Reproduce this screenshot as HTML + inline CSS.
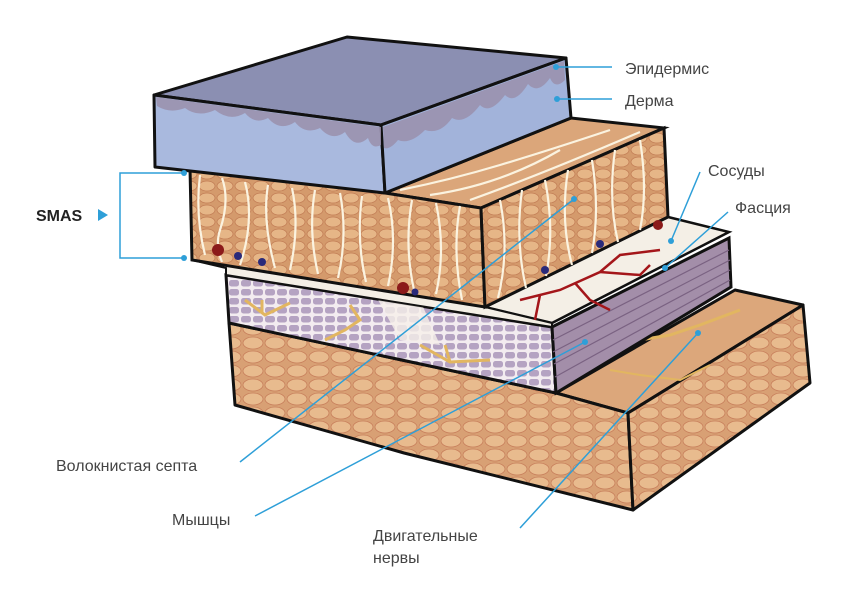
<!DOCTYPE html>
<html><head><meta charset="utf-8"><style>
html,body{margin:0;padding:0;background:#fff;}
svg{display:block;}
text{font-family:"Liberation Sans",sans-serif;font-size:16px;fill:#444;}
</style></head><body>
<svg width="854" height="601" viewBox="0 0 854 601" xmlns="http://www.w3.org/2000/svg">
<defs>
<pattern id="fat" width="18" height="12" patternUnits="userSpaceOnUse">
<rect width="18" height="12" fill="#d49a6c"/>
<ellipse cx="9" cy="6" rx="8" ry="5" fill="#e6b687" stroke="#c27d55" stroke-width=".8"/>
</pattern>
<pattern id="fat2" width="22" height="14" patternUnits="userSpaceOnUse">
<rect width="22" height="14" fill="#d8a074"/>
<ellipse cx="11" cy="7" rx="10" ry="6" fill="#e8bb8e" stroke="#c8805c" stroke-width=".8"/>
</pattern>
<pattern id="mus" width="12" height="9" patternUnits="userSpaceOnUse">
<rect width="12" height="9" fill="#f3ecf0"/>
<rect x="1" y="1" width="10" height="6.5" rx="2.5" fill="#b5a3c2"/>
</pattern>
</defs>
<rect width="854" height="601" fill="#fff"/>

<!-- bottom block -->
<polygon points="556,393 735,290 803,305 628,413" fill="#dca77b" stroke="#111" stroke-width="3" stroke-linejoin="round"/>
<polygon points="229,323 556,393 628,413 633,510 404,453 235,405" fill="url(#fat2)" stroke="#111" stroke-width="3" stroke-linejoin="round"/>
<polygon points="628,413 803,305 810,383 633,510" fill="url(#fat2)" stroke="#111" stroke-width="3" stroke-linejoin="round"/>
<polyline points="600,350 640,340 670,335 700,325 740,310" fill="none" stroke="#e2b660" stroke-width="3"/>
<polyline points="610,370 640,375 680,380 710,365" fill="none" stroke="#e2b660" stroke-width="2"/>

<!-- muscle front -->
<polygon points="226,275 552,327 556,393 229,323" fill="url(#mus)" stroke="#111" stroke-width="3"/>
<polygon points="370,285 420,300 440,345 400,340" fill="#f6f0ea" opacity=".8"/>
<!-- muscle right face -->
<polygon points="552,327 729,238 731,287 556,393" fill="#a38ea9" stroke="#111" stroke-width="3"/>
<g stroke="#7a6282" stroke-width="1.2">
<line x1="553" y1="340" x2="729" y2="250"/><line x1="553" y1="352" x2="730" y2="260"/><line x1="554" y1="364" x2="730" y2="270"/><line x1="555" y1="377" x2="730" y2="280"/>
</g>
<!-- fascia -->
<polygon points="485,307 668,217 729,232 552,323" fill="#f4efe6" stroke="#111" stroke-width="2.5"/>
<polygon points="192,260 485,307 552,323 552,327 226,275 226,268" fill="#f4efe6" stroke="#111" stroke-width="2"/>
<g fill="none" stroke="#e2b660" stroke-width="3">
<path d="M245,300 L265,315 L290,303 M262,313 V300"/>
<path d="M325,340 L345,330 L360,320 L350,305"/>
<path d="M420,345 L450,362 L490,360 M450,362 L445,345"/>
</g>
<g fill="none" stroke="#a4161a" stroke-width="2.5">
<path d="M520,300 L560,290 L600,272 L620,255 L660,250"/>
<path d="M575,283 L590,300 L610,310 M600,272 L640,275 L650,265"/>
<path d="M540,295 L535,320"/>
</g>

<!-- fat block -->
<polygon points="385,193 571,118 664,128 481,208" fill="#dba67a" stroke="#111" stroke-width="3"/>
<polygon points="190,168 385,193 481,208 485,307 192,260" fill="url(#fat)" stroke="#111" stroke-width="3"/>
<polygon points="481,208 664,128 668,217 485,307" fill="url(#fat)" stroke="#111" stroke-width="3"/>
<g stroke="#fbf3e0" stroke-width="2.2" fill="none">
<path d="M200,175 Q195,215 205,255 M222,178 Q230,200 220,230 Q215,245 222,262 M245,182 Q255,220 240,265 M268,185 Q262,220 275,268 M292,188 Q300,225 290,270 M315,190 Q308,230 318,274 M340,193 Q348,235 338,278 M362,196 Q356,240 366,282 M388,198 Q398,240 388,286 M412,200 Q404,245 414,290 M436,203 Q446,250 436,294 M460,206 Q452,250 462,300"/>
<path d="M500,200 Q510,250 498,298 M522,190 Q515,240 526,288 M545,180 Q555,230 546,276 M568,170 Q560,220 572,265 M592,160 Q600,210 592,253 M615,150 Q608,200 618,242 M640,140 Q648,190 640,230"/>
<path d="M400,190 Q450,180 500,165 Q550,150 610,130 M430,195 Q500,185 560,150 M470,200 Q540,175 640,132"/>
</g>
<g fill="#8b1a1a"><circle cx="218" cy="250" r="6"/><circle cx="403" cy="288" r="6"/><circle cx="658" cy="225" r="5"/></g>
<g fill="#2a2a7a"><circle cx="238" cy="256" r="4"/><circle cx="262" cy="262" r="4"/><circle cx="415" cy="292" r="3.5"/><circle cx="545" cy="270" r="4"/><circle cx="600" cy="244" r="4"/></g>

<!-- dermis block -->
<polygon points="154,95 347,37 566,58 381,125" fill="#8b8fb2" stroke="#111" stroke-width="3" stroke-linejoin="round"/>
<polygon points="154,95 381,125 385,193 155,167" fill="#a9b9de" stroke="#111" stroke-width="3" stroke-linejoin="round"/>
<polygon points="381,125 566,58 571,118 385,193" fill="#a2b3da" stroke="#111" stroke-width="3" stroke-linejoin="round"/>
<path d="M156,97 L381,127 L381,145 Q372,150 368,138 Q355,150 345,132 Q332,142 320,128 Q305,135 295,122 Q280,132 268,118 Q255,125 245,113 Q230,122 215,110 Q198,118 185,108 Q170,114 157,106 Z" fill="#9a8fab" opacity=".85"/>
<path d="M383,127 L564,61 L565,80 Q555,90 550,78 Q538,95 528,84 Q515,105 505,95 Q490,115 480,105 Q465,125 452,118 Q440,135 425,130 Q410,145 398,140 Q390,150 384,148 Z" fill="#9a8fab" opacity=".85"/>

<!-- connectors -->
<g stroke="#2e9fd8" stroke-width="1.5" fill="none">
<line x1="556" y1="67" x2="612" y2="67"/>
<line x1="557" y1="99" x2="612" y2="99"/>
<polyline points="184,173 120,173 120,258 184,258"/>
<line x1="700" y1="172" x2="671" y2="241"/>
<line x1="728" y1="212" x2="665" y2="268"/>
<line x1="574" y1="199" x2="240" y2="462"/>
<line x1="585" y1="342" x2="255" y2="516"/>
<line x1="698" y1="333" x2="520" y2="528"/>
</g>
<g fill="#2e9fd8"><circle cx="556" cy="67" r="3"/><circle cx="557" cy="99" r="3"/><circle cx="184" cy="173" r="3"/><circle cx="184" cy="258" r="3"/><circle cx="671" cy="241" r="3"/><circle cx="665" cy="268" r="3"/><circle cx="574" cy="199" r="3"/><circle cx="585" cy="342" r="3"/><circle cx="698" cy="333" r="3"/></g>

<text x="625" y="74">Эпидермис</text>
<text x="625" y="106">Дерма</text>
<text x="708" y="176">Сосуды</text>
<text x="735" y="213">Фасция</text>
<text x="36" y="221" font-weight="bold" style="fill:#222">SMAS</text>
<polygon points="98,209 98,221 108,215" fill="#2e9fd8"/>
<text x="56" y="471">Волокнистая септа</text>
<text x="172" y="525">Мышцы</text>
<text x="373" y="541">Двигательные</text>
<text x="373" y="563">нервы</text>
</svg>
</body></html>
